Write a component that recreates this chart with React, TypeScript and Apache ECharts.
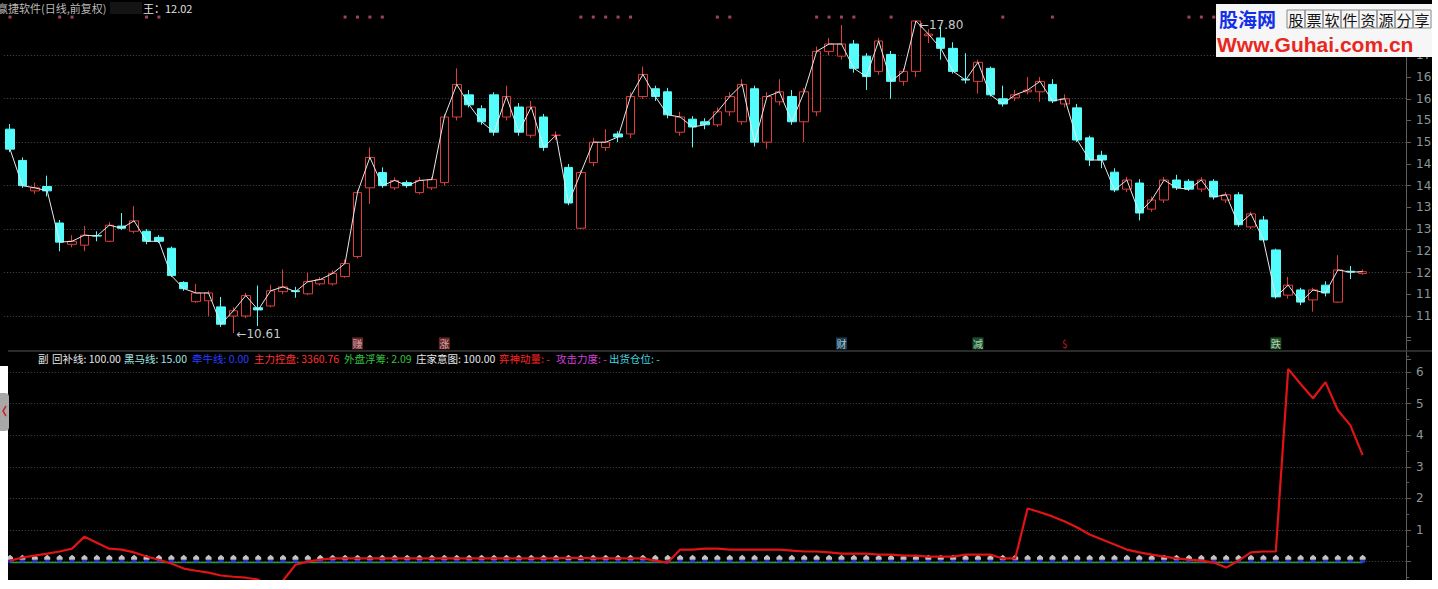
import React, { useEffect, useRef } from 'react';
import * as echarts from 'echarts';

// ---------- data ----------
const dayLabels: string[] = Array.from({ length: 110 }, (_, i) => 'D' + (i + 1));
const padSlots = ['p1', 'p2', 'p3'];

// [open, close, low, high]
const ohlc: number[][] = [
  [15.30,14.84,14.77,15.42],[14.58,14.00,13.95,14.65],[13.88,13.95,13.81,14.07],[13.98,13.88,13.75,14.23],
  [13.14,12.70,12.49,13.21],[12.65,12.72,12.58,12.86],[12.63,12.86,12.49,13.07],[12.85,12.84,12.72,12.95],
  [12.72,13.09,12.70,13.16],[13.07,13.02,12.98,13.37],[12.95,13.19,12.90,13.53],[12.95,12.72,12.65,13.00],
  [12.81,12.72,12.68,12.86],[12.56,11.93,11.90,12.60],[11.77,11.63,11.58,11.80],[11.33,11.53,11.30,11.74],
  [11.35,11.53,11.00,11.58],[11.21,10.81,10.75,11.44],[11.00,11.12,10.61,11.20],[11.00,11.47,10.95,11.53],
  [11.19,11.14,10.77,11.70],[11.23,11.58,11.20,11.72],[11.56,11.67,11.50,12.07],[11.58,11.56,11.42,11.67],
  [11.51,11.79,11.48,12.00],[11.74,11.84,11.70,11.90],[11.74,11.98,11.70,12.05],[11.91,12.21,11.88,12.30],
  [12.37,13.84,12.33,13.90],[13.95,14.65,13.58,14.88],[14.30,14.00,13.95,14.42],[13.95,14.12,13.90,14.19],
  [14.07,14.00,13.95,14.12],[13.84,14.12,13.80,14.20],[13.95,14.14,13.90,14.20],[14.07,15.58,14.00,15.65],
  [15.58,16.33,15.50,16.70],[16.09,15.86,15.80,16.20],[15.77,15.47,15.40,15.85],[16.09,15.23,15.15,16.15],
  [15.58,16.05,15.50,16.30],[15.81,15.23,15.15,15.90],[15.16,15.81,15.10,15.95],[15.58,14.88,14.80,15.65],
  [15.16,15.16,15.05,15.25],[14.42,13.60,13.55,14.50],[13.02,14.30,13.00,14.35],[14.53,15.00,14.45,15.10],
  [14.88,15.00,14.80,15.30],[15.19,15.12,15.00,15.25],[15.19,16.05,15.10,16.15],[16.05,16.56,16.00,16.74],
  [16.23,16.05,15.95,16.30],[16.16,15.63,15.55,16.25],[15.23,15.58,15.15,15.70],[15.53,15.35,14.88,15.60],
  [15.47,15.40,15.30,15.55],[15.40,15.70,15.35,15.80],[15.70,16.05,15.60,16.15],[15.47,16.33,15.40,16.45],
  [16.23,15.00,14.90,16.30],[15.00,16.05,14.85,16.15],[15.93,16.16,15.85,16.45],[16.05,15.47,15.40,16.20],
  [15.47,16.16,15.00,16.25],[15.70,17.09,15.60,17.20],[17.09,17.26,17.00,17.40],[16.98,17.26,16.90,17.70],
  [17.26,16.70,16.60,17.35],[16.98,16.51,16.20,17.05],[16.63,17.33,16.55,17.40],[17.02,16.40,16.00,17.10],
  [16.40,16.63,16.30,16.70],[16.63,17.79,16.50,17.80],[17.45,17.49,17.28,17.60],[17.40,17.16,16.90,17.65],
  [17.16,16.63,16.58,17.30],[16.45,16.43,16.35,17.05],[16.40,16.84,16.12,16.90],[16.70,16.09,16.05,16.74],
  [16.00,15.88,15.82,16.30],[16.02,16.09,15.95,16.20],[16.16,16.20,16.10,16.50],[16.16,16.40,15.93,16.50],
  [16.33,15.95,15.90,16.45],[15.88,16.00,15.80,16.10],[15.79,15.05,15.00,15.88],[15.10,14.59,14.45,15.15],
  [14.70,14.59,14.40,14.80],[14.31,13.90,13.85,14.40],[13.92,14.13,13.85,14.20],[14.06,13.37,13.20,14.15],
  [13.46,13.67,13.40,13.75],[13.67,14.13,13.60,14.20],[14.13,13.95,13.90,14.25],[14.10,13.92,13.88,14.15],
  [13.92,14.13,13.85,14.20],[14.10,13.74,13.68,14.15],[13.67,13.79,13.60,13.85],[13.79,13.10,13.05,13.85],
  [13.05,13.35,13.00,13.40],[13.21,12.75,12.70,13.30],[12.52,11.44,11.40,12.55],[11.48,11.71,11.40,11.90],
  [11.60,11.32,11.25,11.65],[11.37,11.60,11.10,11.65],[11.71,11.53,11.45,11.80],[11.32,12.06,11.30,12.40],
  [12.03,12.01,11.85,12.15],[11.98,12.02,11.95,12.07],
];

// indicator (red line) in sub panel
const momentum = [
  0.03,0.13,0.19,0.25,0.32,0.41,0.79,0.6,0.41,0.38,
  0.29,0.16,0.06,-0.06,-0.22,-0.29,-0.35,-0.44,-0.48,-0.51,
  -0.57,-0.9,-0.6,-0.1,0.0,0.06,0.1,0.1,0.1,0.1,
  0.1,0.1,0.1,0.1,0.1,0.1,0.1,0.1,0.1,0.1,
  0.1,0.1,0.1,0.1,0.1,0.12,0.12,0.1,0.1,0.1,
  0.1,0.1,0.03,-0.03,0.38,0.38,0.41,0.41,0.38,0.38,
  0.38,0.38,0.38,0.35,0.32,0.32,0.29,0.25,0.25,0.25,
  0.22,0.22,0.19,0.19,0.16,0.16,0.16,0.22,0.22,0.22,
  0.1,0.1,1.68,1.56,1.43,1.27,1.08,0.86,0.7,0.54,
  0.38,0.29,0.22,0.16,0.1,0.06,0.03,-0.03,-0.19,0.03,
  0.29,0.32,0.32,6.1,5.62,5.17,5.68,4.79,4.32,3.37,
];

const whiteMarks = [
  0.14,0.14,0.14,0.14,0.14,0.14,0.14,0.14,0.14,0.14,
  0.14,0.14,0.14,0.14,0.14,0.14,0.14,0.14,0.14,0.14,
  0.14,0.14,0.14,0.14,0.14,0.14,0.14,0.14,0.14,0.14,
  0.14,0.14,0.14,0.14,0.14,0.14,0.14,0.14,0.14,0.14,
  0.14,0.14,0.14,0.14,0.14,0.14,0.14,0.14,0.14,0.14,
  0.14,0.14,0.14,0.14,0.14,0.14,0.14,0.14,0.14,0.14,
  0.14,0.14,0.14,0.14,0.14,0.14,0.14,0.14,0.14,0.14,
  0.14,0.14,0.14,0.14,0.14,0.14,0.14,0.14,0.14,0.14,
  0.14,0.14,0.14,0.14,0.14,0.14,0.14,0.14,0.14,0.14,
  0.14,0.14,0.14,0.14,0.14,0.14,0.14,0.14,0.14,0.14,
  0.14,0.14,0.14,0.14,0.14,0.14,0.14,0.14,0.14,0.14,
];
const blueMarks = [
  0.01,0.01,0.01,0.01,0.01,0.01,0.01,0.01,0.01,0.01,
  0.01,0.01,0.01,0.01,0.01,0.01,0.01,0.01,0.01,0.01,
  0.01,0.01,0.01,0.01,0.01,0.01,0.01,0.01,0.01,0.01,
  0.01,0.01,0.01,0.01,0.01,0.01,0.01,0.01,0.01,0.01,
  0.01,0.01,0.01,0.01,0.01,0.01,0.01,0.01,0.01,0.01,
  0.01,0.01,0.01,0.01,0.01,0.01,0.01,0.01,0.01,0.01,
  0.01,0.01,0.01,0.01,0.01,0.01,0.01,0.01,0.01,0.01,
  0.01,0.01,0.01,0.01,0.01,0.01,0.01,0.01,0.01,0.01,
  0.01,0.01,0.01,0.01,0.01,0.01,0.01,0.01,0.01,0.01,
  0.01,0.01,0.01,0.01,0.01,0.01,0.01,0.01,0.01,0.01,
  0.01,0.01,0.01,0.01,0.01,0.01,0.01,0.01,0.01,0.01,
];
const greenLine = [
  -0.03,-0.03,-0.03,-0.03,-0.03,-0.03,-0.03,-0.03,-0.03,-0.03,
  -0.03,-0.03,-0.03,-0.03,-0.03,-0.03,-0.03,-0.03,-0.03,-0.03,
  -0.03,-0.03,-0.03,-0.03,-0.03,-0.03,-0.03,-0.03,-0.03,-0.03,
  -0.03,-0.03,-0.03,-0.03,-0.03,-0.03,-0.03,-0.03,-0.03,-0.03,
  -0.03,-0.03,-0.03,-0.03,-0.03,-0.03,-0.03,-0.03,-0.03,-0.03,
  -0.03,-0.03,-0.03,-0.03,-0.03,-0.03,-0.03,-0.03,-0.03,-0.03,
  -0.03,-0.03,-0.03,-0.03,-0.03,-0.03,-0.03,-0.03,-0.03,-0.03,
  -0.03,-0.03,-0.03,-0.03,-0.03,-0.03,-0.03,-0.03,-0.03,-0.03,
  -0.03,-0.03,-0.03,-0.03,-0.03,-0.03,-0.03,-0.03,-0.03,-0.03,
  -0.03,-0.03,-0.03,-0.03,-0.03,-0.03,-0.03,-0.03,-0.03,-0.03,
  -0.03,-0.03,-0.03,-0.03,-0.03,-0.03,-0.03,-0.03,-0.03,-0.03,
];

// pink signal dots at the top (candle indices)
const dotIdx = [0, 4, 5, 11, 12, 27, 28, 29, 30, 46, 47, 48, 49, 50, 57, 58, 65, 66, 67, 68, 71, 80, 84, 95, 96, 97];
// word signals under the candles
const signalIdx = [28, 35, 67, 78, 85, 102];
const signalText = ['赚', '涨', '财', '减', '$', '跌'];
const signalBg = ['#7e2a2a', '#7e2a2a', '#1d4a68', '#1f6238', 'rgba(0,0,0,0)', '#1f6228'];
const signalFg = ['#e8d0d0', '#e8d0d0', '#d8e8f0', '#d8f0d8', '#ff2020', '#e0f0e0'];

// legend of sub panel
const legendItems = [
  { t: '回补线: 100.00', c: '#e6e6e6', x: 52 },
  { t: '黑马线: 15.00', c: '#9fe6e6', x: 124 },
  { t: '牵牛线: 0.00', c: '#2a3cff', x: 192 },
  { t: '主力控盘: 3360.76', c: '#ff3030', x: 254 },
  { t: '外盘浮筹: 2.09', c: '#36c040', x: 344 },
  { t: '庄家意图: 100.00', c: '#e6e6e6', x: 416 },
  { t: '弈神动量: -', c: '#ff2424', x: 499 },
  { t: '攻击力度: -', c: '#d040d8', x: 556 },
  { t: '出货仓位: -', c: '#40d8e0', x: 609 },
];

// ---------- layout constants ----------
const W = 1432;
const H = 580;
const GL = 3.8;
const GR = 25.9;
const dotLevel = 17.88;
const signalLevel = 10.37;
const CJK = '"Noto Sans CJK SC", "Noto Sans", sans-serif';

export default function App() {
  const ref = useRef<HTMLDivElement>(null);
  useEffect(() => {
    const chart = echarts.init(ref.current!, null, { renderer: 'svg' });
    const slots = [...dayLabels, ...padSlots];
    const closes = ohlc.map((d) => d[1]);
    const gridLineStyle = { color: '#4a4a4a', type: [1, 2] as any, width: 1 };
    const axisCol = '#5c5c5c';
    const labelCol = '#8a9898';

    const boxes = ['股', '票', '软', '件', '资', '源', '分', '享'];
    const boxEls: any[] = [];
    boxes.forEach((ch, k) => {
      boxEls.push({
        type: 'rect', shape: { x: 1287 + k * 18, y: 10, width: 18, height: 18 },
        style: { fill: 'rgba(0,0,0,0)', stroke: '#8a8a8a', lineWidth: 1 }, z: 101,
      });
      boxEls.push({
        type: 'text', x: 1296 + k * 18, y: 19,
        style: { text: ch, fill: '#111', font: '15px "Noto Sans CJK SC"', align: 'center', verticalAlign: 'middle' }, z: 102,
      });
    });

    const option: any = {
      animation: false,
      backgroundColor: '#000',
      grid: [
        { left: GL, right: GR, top: 11.85, height: 347.6, outerBoundsMode: 'none', containLabel: false },
        { left: GL, right: GR, top: 340.4, height: 252.8, outerBoundsMode: 'none', containLabel: false },
      ],
      xAxis: [
        { type: 'category', gridIndex: 0, data: slots, boundaryGap: true, show: false },
        { type: 'category', gridIndex: 1, data: slots, boundaryGap: true, show: false },
      ],
      yAxis: [
        {
          type: 'value', gridIndex: 0, position: 'right', min: 10, max: 18, interval: 0.5,
          axisLine: { show: true, lineStyle: { color: axisCol } },
          axisTick: { show: true, length: 5, lineStyle: { color: axisCol } },
          axisLabel: {
            color: labelCol, fontSize: 12, margin: 10, fontFamily: 'DejaVu Sans',
            formatter: (v: number) => (v < 11 || v > 17 ? '' : v.toFixed(2)),
          },
          splitLine: { show: false },
        },
        {
          type: 'value', gridIndex: 0, position: 'right', min: 10, max: 18, interval: 1,
          axisLine: { show: false }, axisTick: { show: false }, axisLabel: { show: false },
          splitLine: { show: true, showMinLine: false, showMaxLine: false, lineStyle: gridLineStyle },
        },
        {
          type: 'value', gridIndex: 1, position: 'right', min: -1, max: 7, interval: 1,
          axisLine: { show: true, lineStyle: { color: axisCol } },
          axisTick: { show: true, length: 5, lineStyle: { color: axisCol } },
          minorTick: { show: true, splitNumber: 2, length: 3, lineStyle: { color: axisCol } },
          axisLabel: {
            color: labelCol, fontSize: 12, margin: 10, fontFamily: 'DejaVu Sans',
            formatter: (v: number) => (v >= 1 && v <= 6 ? String(v) : ''),
          },
          splitLine: { show: true, showMinLine: false, showMaxLine: false, lineStyle: gridLineStyle },
        },
      ],
      series: [
        {
          type: 'candlestick', xAxisIndex: 0, yAxisIndex: 0, data: ohlc, barWidth: 9,
          itemStyle: { color: '#000', color0: '#54FCFC', borderColor: '#E03C3C', borderColor0: '#54FCFC', borderWidth: 1 },
          markPoint: {
            symbol: 'circle', symbolSize: 0, silent: true,
            data: [
              { type: 'max', valueDim: 'highest', label: { position: 'right', offset: [-2, 4] } },
              { type: 'min', valueDim: 'lowest', label: { position: 'right', offset: [-2, 1] } },
            ],
            label: {
              show: true, color: '#c8c8c8', fontSize: 12, fontFamily: 'DejaVu Sans',
              formatter: (p: any) => '←' + Number(p.value).toFixed(2),
            },
          },
          z: 3,
        },
        {
          type: 'line', xAxisIndex: 0, yAxisIndex: 0, data: closes, symbol: 'none',
          lineStyle: { color: '#e8e8e8', width: 1 }, z: 4, silent: true,
        },
        {
          type: 'scatter', xAxisIndex: 0, yAxisIndex: 0, symbol: 'rect', symbolSize: 3,
          data: dotIdx.map((i) => [i, dotLevel]), itemStyle: { color: '#c8507a' }, silent: true,
        },
        {
          type: 'scatter', xAxisIndex: 0, yAxisIndex: 0, symbol: 'rect', symbolSize: [11, 12], silent: true,
          data: signalIdx.map((i, k) => ({
            value: [i, signalLevel],
            itemStyle: { color: signalBg[k] },
            label: { show: true, position: 'inside', formatter: signalText[k], color: signalFg[k], fontSize: 10, fontFamily: CJK },
          })),
        },
        {
          type: 'line', xAxisIndex: 1, yAxisIndex: 2, data: greenLine, symbol: 'none',
          lineStyle: { color: '#2e9a3a', width: 1.5 }, silent: true, z: 2,
        },
        {
          type: 'scatter', xAxisIndex: 1, yAxisIndex: 2, data: blueMarks, symbol: 'rect', symbolSize: [5, 3],
          itemStyle: { color: '#2a3cff' }, silent: true, z: 3,
        },
        {
          type: 'scatter', xAxisIndex: 1, yAxisIndex: 2, data: whiteMarks,
          symbol: 'path://M0,6 L0,3 L3,0 L6,3 L6,6 Z', symbolSize: [6, 5],
          itemStyle: { color: '#f4f4f4' }, silent: true, z: 3,
        },
        {
          type: 'line', xAxisIndex: 1, yAxisIndex: 2, data: momentum, symbol: 'none',
          lineStyle: { color: '#e01414', width: 2.2 }, silent: true, z: 4,
        },
      ],
      graphic: [
        // title row
        { type: 'text', x: -3, y: 8, style: { text: '赢捷软件(日线,前复权)', fill: '#b8b8b8', font: '11px ' + CJK, verticalAlign: 'middle' }, z: 50 },
        { type: 'rect', shape: { x: 110, y: 2, width: 32, height: 12 }, style: { fill: '#141414' }, z: 50 },
        { type: 'text', x: 143, y: 8, style: { text: '王：12.02', fill: '#e0e0e0', font: '11px ' + CJK, verticalAlign: 'middle' }, z: 50 },
        // separator between panels
        { type: 'line', shape: { x1: 8, y1: 351, x2: W, y2: 351 }, style: { stroke: '#3a3a3a', lineWidth: 1.5 }, z: 40 },
        // left margin of the sub panel and its toggle tab
        { type: 'rect', shape: { x: 0, y: 366, width: 8, height: 240 }, style: { fill: '#ffffff' }, z: 60 },
        { type: 'rect', shape: { x: 0, y: 393, width: 9, height: 38, r: [0, 4, 4, 0] }, style: { fill: '#a8a8a8' }, z: 61 },
        { type: 'polyline', shape: { points: [[6, 406], [3, 411], [6, 416]] }, style: { stroke: '#d02020', lineWidth: 1.5, fill: 'none' }, z: 62 },
        // sub legend
        { type: 'text', x: 38, y: 358, style: { text: '副', fill: '#e6e6e6', font: '10.5px ' + CJK, verticalAlign: 'middle' }, z: 50 },
        ...legendItems.map((it) => ({
          type: 'text', x: it.x, y: 358,
          style: { text: it.t, fill: it.c, font: '10.5px ' + CJK, verticalAlign: 'middle' }, z: 50,
        })),
        // logo
        { type: 'rect', shape: { x: 1216, y: 4, width: 216, height: 53 }, style: { fill: '#f6f6f6' }, z: 100 },
        { type: 'text', x: 1219, y: 18, style: { text: '股海网', fill: '#1430e6', font: 'bold 19px ' + CJK, verticalAlign: 'middle' }, z: 101 },
        ...boxEls,
        { type: 'text', x: 1217, y: 44, style: { text: 'Www.Guhai.com.cn', fill: '#e8281e', font: 'bold 21px "Liberation Sans", Arial, sans-serif', verticalAlign: 'middle' }, z: 101 },
      ],
    };
    chart.setOption(option);
    return () => chart.dispose();
  }, []);
  return (
    <div style={{ position: 'absolute', left: 0, top: 0, width: W, height: H, overflow: 'hidden', background: '#000' }}>
      <div ref={ref} style={{ width: W, height: H + 20 }} />
    </div>
  );
}
